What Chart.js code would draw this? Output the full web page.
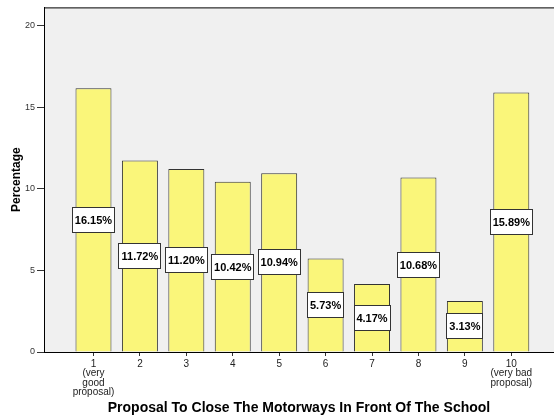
<!DOCTYPE html>
<html>
<head>
<meta charset="utf-8">
<script src="https://cdn.jsdelivr.net/npm/chart.js@4/dist/chart.umd.min.js"></script>
<style>
body{margin:0;background:#fff;}
#wrap{width:554px;height:420px;}
</style>
</head>
<body>
<div id="wrap"><canvas id="myChart" width="554" height="420"></canvas></div>
<script>
// answer scale 1..10
const categories = [1,2,3,4,5,6,7,8,9,10];

const percentages = [16.15,11.72,11.20,10.42,10.94,5.73,4.17,10.68,3.13,15.89];

const tickLabels = [
["1","(very","good","proposal)"],
"2","3","4","5","6","7","8","9",
["10","(very bad","proposal)"]
];

const yTicks = [0,5,10,15,20];

const plotBg = {
id:"plotBg",
beforeDraw(chart){
const a = chart.chartArea;
const c = chart.ctx;
c.save();
c.fillStyle = "#f0f0f0";
c.fillRect(a.left,a.top,a.right-a.left,a.bottom-a.top);
c.strokeStyle = "#000";
c.lineWidth = 1;
c.beginPath();
c.moveTo(a.left,a.top+0.5);
c.lineTo(a.right,a.top+0.5);
c.stroke();
c.restore();
}
};

const valueLabels = {
id:"valueLabels",
afterDatasetsDraw(chart){
const c = chart.ctx;
const meta = chart.getDatasetMeta(0);
c.save();
c.font = "bold 11px Arial, 'Liberation Sans', sans-serif";
c.textAlign = "center";
c.textBaseline = "middle";
meta.data.forEach((bar,i)=>{
const txt = percentages[i].toFixed(2)+"%";
const w = Math.round(c.measureText(txt).width+6);
const h = 26;
const x = Math.round(bar.x - w/2);
const y = Math.round((bar.y+bar.base)/2 - h/2);
c.fillStyle = "#fff";
c.fillRect(x,y,w,h);
c.strokeStyle = "#333";
c.lineWidth = 1;
c.strokeRect(x+0.5,y+0.5,w-1,h-1);
c.fillStyle = "#000";
c.fillText(txt,bar.x,(bar.y+bar.base)/2+1);
});
c.restore();
}
};

const ctx =
document
.getElementById("myChart");

let chart =
new Chart(ctx,{

type:"bar",

data:{
datasets:[{
label:"Percentage",
data:categories.map((c,i)=>({x:c,y:percentages[i]})),
backgroundColor:"#faf67a",
borderColor:"#333",
borderWidth:1,
barPercentage:0.775,
categoryPercentage:1
}]
},

options:{
responsive:false,
animation:false,
layout:{padding:{top:7,right:0,left:0,bottom:0}},
plugins:{
legend:{display:false},
tooltip:{enabled:false}
},
scales:{
x:{
type:"linear",
offset:false,
min:-0.066,
max:10.92,
afterBuildTicks(axis){
axis.ticks = categories.map(v=>({value:v}));
},
afterFit(axis){
axis.height = 68;
},
grid:{
offset:false,
drawOnChartArea:false,
tickLength:4,
color:"#333"
},
border:{color:"#000",width:1},
ticks:{
autoSkip:false,
maxRotation:0,
padding:3,
color:"#222",
font:{family:"Arial, 'Liberation Sans', sans-serif",size:10,lineHeight:0.95},
callback:(v)=>tickLabels[v-1]
},
title:{
display:true,
text:"Proposal To Close The Motorways In Front Of The School",
color:"#000",
padding:{top:0,bottom:3},
font:{family:"Arial, 'Liberation Sans', sans-serif",size:14,weight:"bold"}
}
},
y:{
min:0,
max:21.1,
afterBuildTicks(axis){
axis.ticks = yTicks.map(v=>({value:v}));
},
afterFit(axis){
axis.width = 44;
},
grid:{
drawOnChartArea:false,
tickLength:7,
color:"#333"
},
border:{color:"#000",width:1},
ticks:{
padding:2,
color:"#333",
font:{family:"Arial, 'Liberation Sans', sans-serif",size:9}
},
title:{
display:true,
text:"Percentage",
color:"#000",
padding:{top:9,bottom:0},
font:{family:"Arial, 'Liberation Sans', sans-serif",size:12,weight:"bold"}
}
}
}
},

plugins:[plotBg,valueLabels]

});
</script>
</body>
</html>
